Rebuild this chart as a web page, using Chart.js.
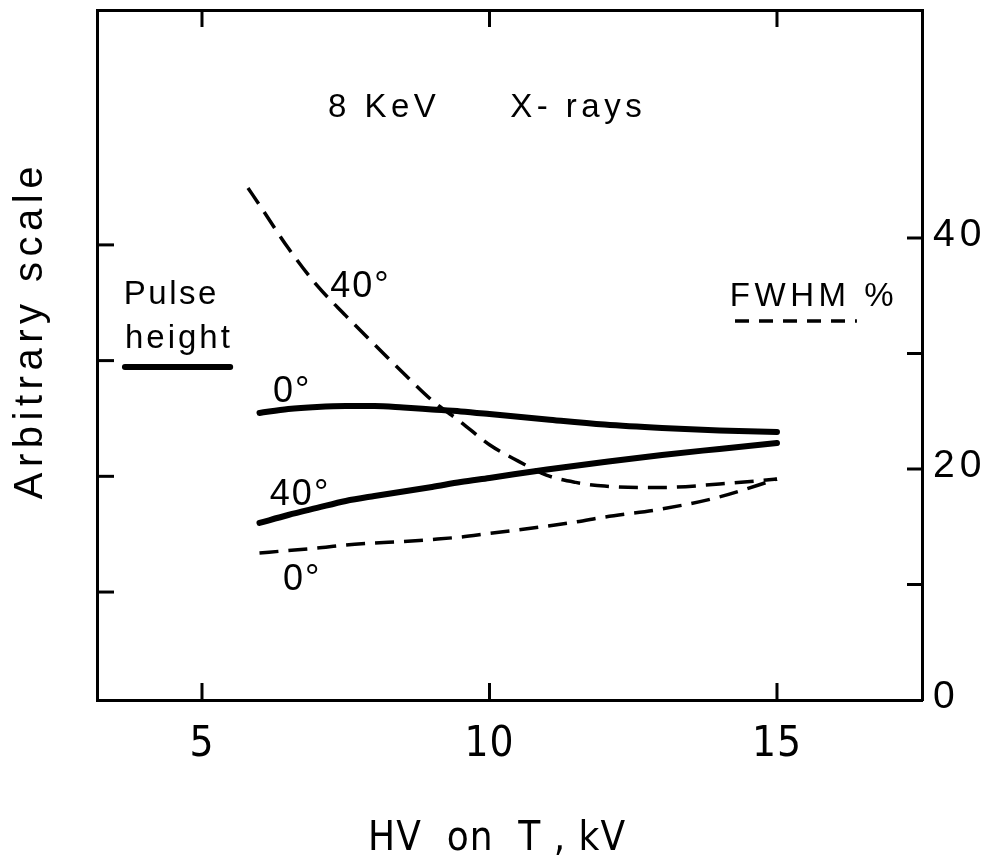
<!DOCTYPE html>
<html>
<head>
<meta charset="utf-8">
<script src="https://cdn.jsdelivr.net/npm/chart.js@4.4.1/dist/chart.umd.min.js"></script>
<style>
html, body { margin: 0; padding: 0; background: #ffffff; }
canvas { display: block; }
</style>
</head>
<body>
<canvas id="c" width="993" height="867"></canvas>
<script>
// ---- data ----
const hvTicks = [5, 10, 15];
const leftTicks = [1, 2, 3, 4];
const rightTicks = [0, 10, 20, 30, 40];
const rightTickLabels = ['0', '', '20', '', '40'];

// Pulse height (arbitrary scale), solid lines
const hvPulse = [6, 6.5, 7, 7.5, 8, 8.5, 9, 9.5, 10, 11, 12, 13, 14, 15];
const pulse0 = [2.548, 2.582, 2.600, 2.608, 2.608, 2.595, 2.578, 2.561, 2.539, 2.492, 2.448, 2.418, 2.396, 2.383];
const pulse40 = [1.597, 1.666, 1.727, 1.787, 1.830, 1.869, 1.908, 1.951, 1.986, 2.059, 2.124, 2.185, 2.237, 2.288];

// FWHM %, dashed lines
const hvFwhm40 = [5.8, 6, 6.5, 7, 7.5, 8, 8.5, 9, 9.5, 10, 10.5, 11, 11.5, 12, 13, 14, 15];
const fwhm40 = [44.33, 42.86, 39.13, 35.89, 33.28, 30.78, 28.31, 25.94, 24.07, 22.10, 20.68, 19.45, 18.84, 18.52, 18.40, 18.70, 19.13];
const hvFwhm0 = [6, 6.5, 7, 7.5, 8, 8.5, 9, 9.5, 10, 10.5, 11, 11.5, 12, 13, 14, 15];
const fwhm0 = [12.73, 12.94, 13.16, 13.42, 13.59, 13.72, 13.90, 14.11, 14.42, 14.72, 15.06, 15.41, 15.84, 16.54, 17.58, 19.13];

// ---- styling ----
const INK = '#000000';
const FONT = '"Liberation Sans", Arial, Helvetica, sans-serif';
const NARROW = '"DejaVu Sans Condensed", "Liberation Sans Narrow", "DejaVu Sans", sans-serif';
const X_MIN = 3.174, X_MAX = 17.522;
const LETTER_SPACING = { x: '1px', yL: '5.5px', yR: '5px' };

const pts = (xs, ys) => xs.map((x, i) => ({ x: x, y: ys[i] }));
const fixedTicks = arr => scale => { scale.ticks = arr.map(v => ({ value: v })); };

// per-axis letter spacing for the library-drawn labels and titles
const spacing = {
  id: 'spacing',
  beforeDraw(chart) {
    Object.values(chart.scales).forEach(s => {
      if (s.__spaced) return;
      s.__spaced = true;
      ['drawTitle', 'drawLabels'].forEach(fn => {
        const orig = s[fn];
        s[fn] = function () {
          const ctx = this.ctx;
          const prev = ctx.letterSpacing;
          ctx.letterSpacing = LETTER_SPACING[this.id] || '0px';
          orig.apply(this, arguments);
          ctx.letterSpacing = prev;
        };
      });
    });
  }
};

const annot = {
  id: 'annot',
  afterDraw(chart) {
    const { ctx, chartArea: ca } = chart;
    const x = chart.scales.x, yL = chart.scales.yL, yR = chart.scales.yR;
    ctx.save();
    ctx.strokeStyle = INK;
    ctx.fillStyle = INK;
    const line = (x1, y1, x2, y2) => { ctx.beginPath(); ctx.moveTo(x1, y1); ctx.lineTo(x2, y2); ctx.stroke(); };

    // inward tick marks on all four sides
    ctx.lineWidth = 3;
    ctx.lineCap = 'butt';
    const TL = 17;
    x.ticks.forEach(t => {
      const px = x.getPixelForValue(t.value);
      line(px, ca.bottom, px, ca.bottom - TL);
      line(px, ca.top, px, ca.top + TL);
    });
    yL.ticks.forEach(t => {
      const py = yL.getPixelForValue(t.value);
      line(ca.left, py, ca.left + TL, py);
    });
    yR.ticks.forEach(t => {
      if (t.value === 0) return;
      const py = yR.getPixelForValue(t.value);
      line(ca.right, py, ca.right - 15, py);
    });

    // text annotations placed in data coordinates
    const text = (s, hx, fv, size, sp) => {
      ctx.font = size + 'px ' + FONT;
      ctx.letterSpacing = sp + 'px';
      ctx.textAlign = 'left';
      ctx.textBaseline = 'alphabetic';
      ctx.fillText(s, x.getPixelForValue(hx), yR.getPixelForValue(fv));
    };
    text('8 KeV', 7.19, 50.48, 33, 4.5);
    text('X- rays', 10.36, 50.48, 33, 4.5);
    text('Pulse', 3.64, 34.29, 33, 2.5);
    text('height', 3.66, 30.48, 33, 3);
    text('FWHM %', 14.18, 34.1, 33, 4.5);
    text('40°', 7.23, 34.89, 36, 2);
    text('0°', 6.235, 25.8, 36, 2);
    text('40°', 6.18, 16.88, 36, 2);
    text('0°', 6.41, 9.52, 36, 2);

    // legend keys
    ctx.letterSpacing = '0px';
    ctx.lineCap = 'round';
    ctx.lineWidth = 6;
    line(x.getPixelForValue(3.66), yR.getPixelForValue(28.83), x.getPixelForValue(5.49), yR.getPixelForValue(28.83));
    ctx.lineCap = 'butt';
    ctx.lineWidth = 3.5;
    ctx.setLineDash([14, 10]);
    line(x.getPixelForValue(14.27), yR.getPixelForValue(32.81), x.getPixelForValue(16.39), yR.getPixelForValue(32.81));
    ctx.restore();
  }
};

const solid = (label, data) => ({
  label: label, data: data, yAxisID: 'yL', borderColor: INK, borderWidth: 6,
  borderCapStyle: 'round', borderJoinStyle: 'round',
  pointRadius: 0, cubicInterpolationMode: 'monotone', fill: false
});
const dashed = (label, data) => ({
  label: label, data: data, yAxisID: 'yR', borderColor: INK, borderWidth: 3.5,
  borderDash: [19, 10], borderJoinStyle: 'round',
  pointRadius: 0, cubicInterpolationMode: 'monotone', fill: false
});

new Chart(document.getElementById('c'), {
  type: 'line',
  data: {
    datasets: [
      solid('Pulse height 0°', pts(hvPulse, pulse0)),
      solid('Pulse height 40°', pts(hvPulse, pulse40)),
      dashed('FWHM % 40°', pts(hvFwhm40, fwhm40)),
      dashed('FWHM % 0°', pts(hvFwhm0, fwhm0))
    ]
  },
  options: {
    responsive: false,
    animation: false,
    devicePixelRatio: 1,
    layout: { padding: 0 },
    plugins: { legend: { display: false }, tooltip: { enabled: false }, title: { display: false } },
    scales: {
      x: {
        type: 'linear', position: 'bottom', min: X_MIN, max: X_MAX,
        afterBuildTicks: fixedTicks(hvTicks),
        ticks: { font: { family: NARROW, size: 42 }, color: INK, padding: 20 },
        grid: { drawOnChartArea: false, drawTicks: false },
        border: { color: INK, width: 3 },
        title: { display: true, text: 'HV  on  T , kV  ', font: { family: NARROW, size: 40 }, color: INK, padding: { top: 0, bottom: 3 } },
        afterFit: s => { s.height = 167; }
      },
      xTop: {
        type: 'linear', position: 'top', min: X_MIN, max: X_MAX,
        afterBuildTicks: fixedTicks(hvTicks),
        ticks: { display: false },
        grid: { drawOnChartArea: false, drawTicks: false },
        border: { color: INK, width: 3 },
        afterFit: s => { s.height = 10; }
      },
      yL: {
        type: 'linear', position: 'left', min: 0.067, max: 6.03,
        afterBuildTicks: fixedTicks(leftTicks),
        ticks: { display: false },
        grid: { drawOnChartArea: false, drawTicks: false },
        border: { color: INK, width: 3 },
        title: { display: true, text: '   Arbitrary scale', font: { family: FONT, size: 40 }, color: INK, padding: { top: 7, bottom: 0 } },
        afterFit: s => { s.width = 97; }
      },
      yR: {
        type: 'linear', position: 'right', min: 0, max: 59.74,
        afterBuildTicks: fixedTicks(rightTicks),
        ticks: {
          font: { family: FONT, size: 39, lineHeight: 0.5 }, color: INK, padding: 0, labelOffset: -3,
          callback: (v, i) => rightTickLabels[i]
        },
        grid: { drawOnChartArea: false, drawTicks: true, tickLength: 11, tickColor: 'rgba(0,0,0,0)' },
        border: { color: INK, width: 3 },
        afterFit: s => { s.width = 71; }
      }
    }
  },
  plugins: [spacing, annot]
});
</script>
</body>
</html>
